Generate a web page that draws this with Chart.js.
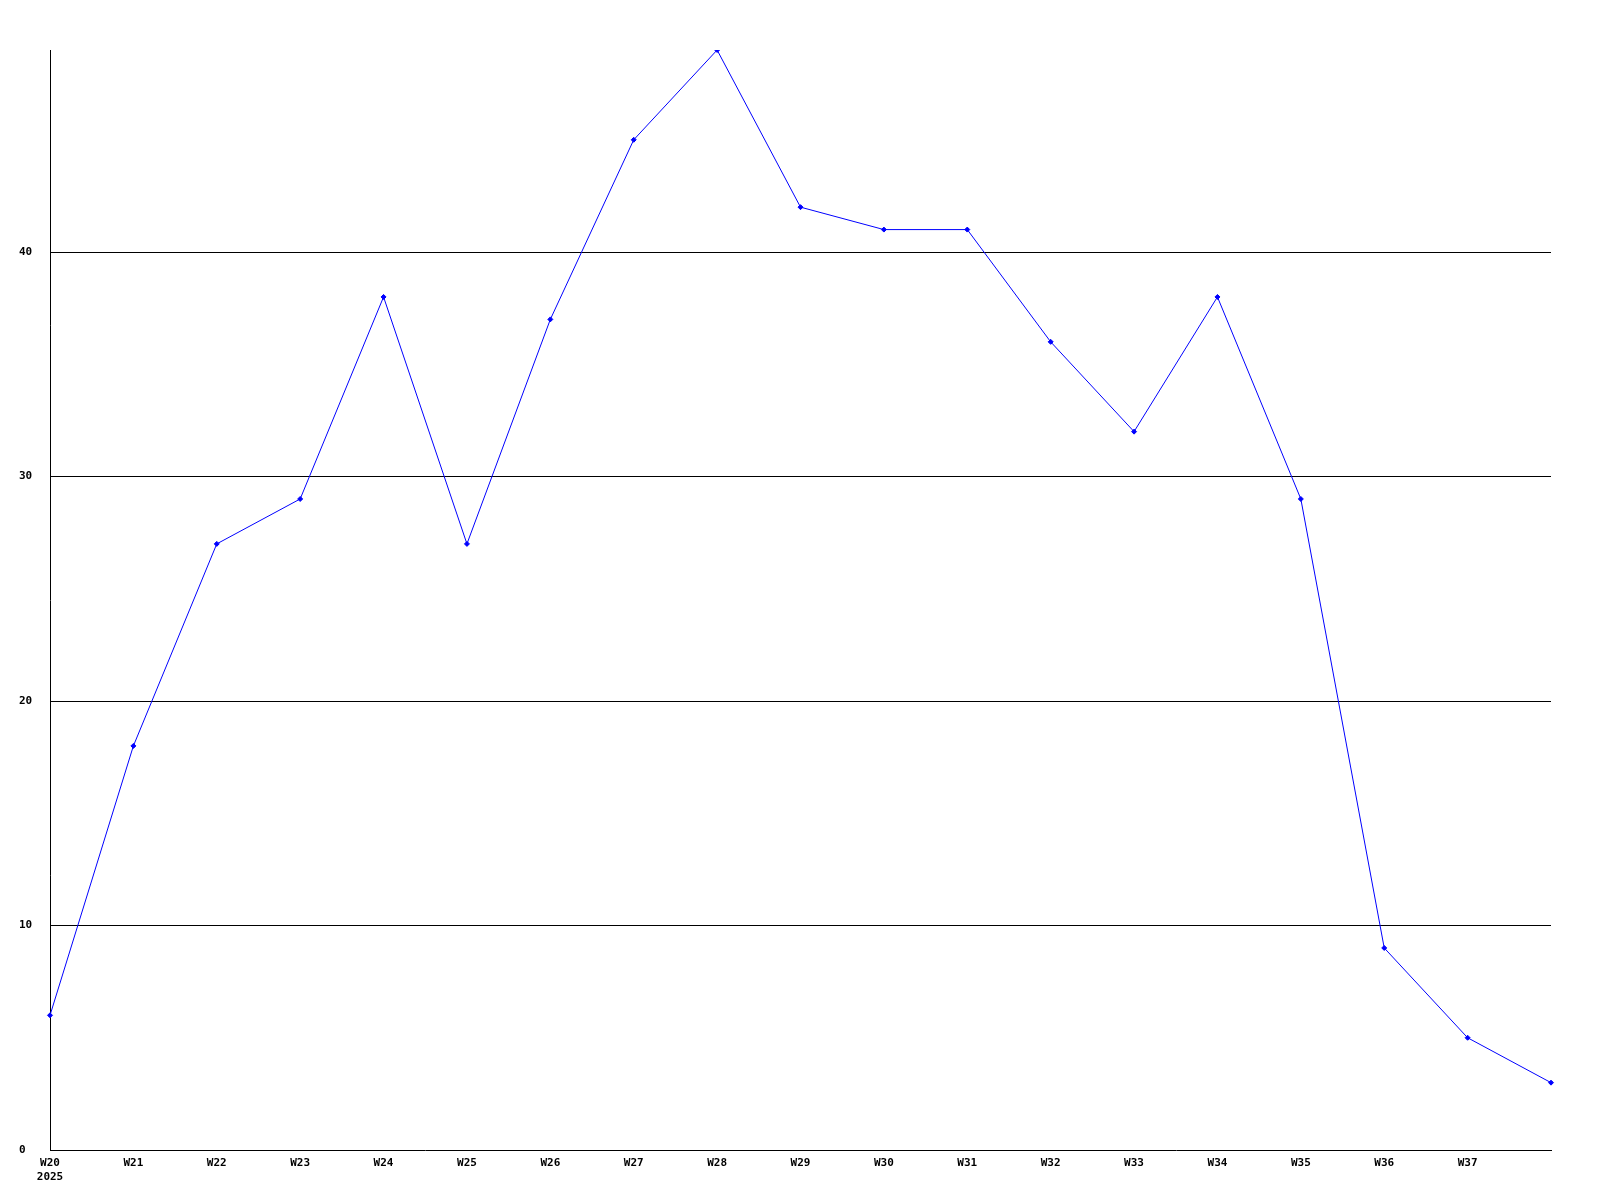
<!DOCTYPE html>
<html>
<head>
<meta charset="utf-8">
<script src="https://cdn.jsdelivr.net/npm/chart.js@4/dist/chart.umd.min.js"></script>
<style>
  html, body { margin: 0; padding: 0; background: #fff; }
  #wrap { width: 1600px; height: 1200px; }
</style>
</head>
<body>
<div id="wrap"><canvas id="chart" width="1600" height="1200"></canvas></div>
<script>
try {

// weekly counts, W20 .. W38 (2025)
var weeks = ['W20','W21','W22','W23','W24','W25','W26','W27','W28','W29',
             'W30','W31','W32','W33','W34','W35','W36','W37','W38'];
var counts = [6, 18, 27, 29, 38, 27, 37, 45, 49, 42, 41, 41, 36, 32, 38, 29, 9, 5, 3];
var year = '2025';
var yTicks = [0, 10, 20, 30, 40];

var tickFont = { family: '"DejaVu Sans Mono", monospace', size: 11, weight: 'bold', lineHeight: 1.3 };

var data = {
  labels: weeks,
  datasets: [
    {
      data: counts,
      borderColor: '#0000ff',
      backgroundColor: '#0000ff',
      borderWidth: 1,
      pointStyle: 'rectRot',
      pointRadius: 2.5,
      pointBorderWidth: 1,
      tension: 0
    }
  ]
};

var options = {
  responsive: false,
  animation: false,
  layout: { padding: { left: 19, right: 49, top: 50, bottom: 0 } },
  plugins: {
    legend: { display: false },
    tooltip: { enabled: false }
  },
  scales: {
    x: {
      type: 'category',
      offset: false,
      grid: { display: false, drawTicks: false },
      border: { display: true, color: '#000', width: 1 },
      ticks: {
        color: '#000',
        font: tickFont,
        padding: 6,
        maxRotation: 0,
        autoSkip: false,
        callback: function(value, index) {
          if (index === weeks.length - 1) return '';
          if (index === 0) return [weeks[0], year];
          return weeks[index];
        }
      },
      afterFit: function(scale) { scale.height = 50; }
    },
    y: {
      min: 0,
      max: 49,
      grid: {
        color: function(ctx) { return ctx.tick && ctx.tick.value === 0 ? 'rgba(0,0,0,0)' : '#000'; },
        lineWidth: 1,
        drawTicks: false
      },
      border: { display: true, color: '#000', width: 1 },
      ticks: {
        color: '#000',
        font: tickFont,
        crossAlign: 'far',
        padding: 0
      },
      afterBuildTicks: function(scale) {
        scale.ticks = yTicks.map(function(v) { return { value: v }; });
      },
      afterFit: function(scale) { scale.width = 31; }
    }
  }
};

new Chart(document.getElementById('chart'), {
  type: 'line',
  data: data,
  options: options
});

} catch (err) {
  console.error(err);
}
</script>
</body>
</html>
